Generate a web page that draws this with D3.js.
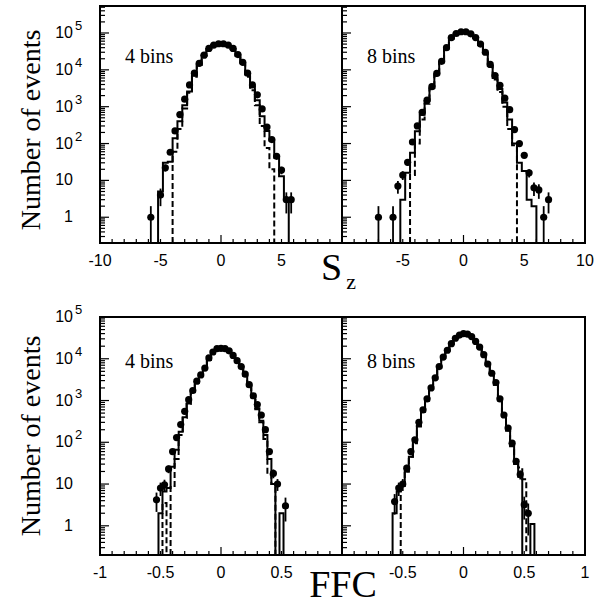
<!DOCTYPE html>
<html>
<head>
<meta charset="utf-8">
<script src="https://cdn.jsdelivr.net/npm/d3@7"></script>
<style>
  body { margin: 0; background: #fff; }
  svg { display: block; }
</style>
</head>
<body>
<div id="vis"></div>
<script>
// S_z panels: bin centres, bin width 0.4
var szBins = [-7.0, -6.6, -6.2, -5.8, -5.4, -5.0, -4.6, -4.2, -3.8, -3.4, -3.0, -2.6,
              -2.2, -1.8, -1.4, -1.0, -0.6, -0.2, 0.2, 0.6, 1.0, 1.4, 1.8, 2.2,
              2.6, 3.0, 3.4, 3.8, 4.2, 4.6, 5.0, 5.4, 5.8, 6.2, 6.6, 7.0];
var szBinWidth = 0.4;

// 4 bins
var sz4Data   = [null, null, null, 1, null, 4, 22, 58, 220, 610, 1600, 3900,
                 8100, 15000, 25000, 38000, 47000, 51000, 51000, 47000, 38000, 26000, 16000, 8100,
                 3900, 2100, 870, 280, 128, 45, 19, 3, 3, null, null, null];
var sz4Solid  = [0, 0, 0, 0, 0, 5, 30, 32, 140, 400, 1100, 2600,
                 7000, 14000, 25000, 37000, 47000, 50000, 50000, 46000, 37000, 25000, 15000, 7800,
                 3500, 1500, 550, 220, 120, 41, 13, 3, 0, 0, 0, 0];
var sz4Dashed = [0, 0, 0, 0, 0, 0, 0, 0, 60, 250, 900, 2400,
                 6500, 13500, 24000, 37000, 47000, 50000, 50000, 46000, 36000, 24000, 14000, 6500,
                 2800, 1100, 300, 76, 20, 0, 0, 0, 0, 0, 0, 0];

// 8 bins
var sz8Data   = [1, null, null, 1, 7, 14, 31, 110, 300, 700, 1500, 3500,
                 8000, 17000, 40000, 75000, 97000, 108000, 108000, 95000, 75000, 50000, 30000, 14000,
                 7000, 3800, 1700, 830, 240, 100, 48, 16, 6.3, 5.5, 1, 3];
var sz8Solid  = [0, 0, 0, 0, 0, 3, 16, 56, 215, 600, 1400, 3200,
                 7500, 16000, 38000, 72000, 96000, 107000, 107000, 94000, 74000, 48000, 28000, 13000,
                 6000, 3000, 1300, 450, 100, 30, 18, 3, 2, 0, 0, 0];
var sz8Dashed = [0, 0, 0, 0, 0, 0, 0, 14, 100, 450, 1200, 3000,
                 7000, 15500, 37000, 71000, 96000, 106000, 106000, 93000, 73000, 47000, 27000, 12500,
                 5500, 2500, 1000, 250, 90, 0, 0, 0, 0, 0, 0, 0];

// FFC panels: bin centres, bin width 1/30
var ffcBins = [-0.567, -0.533, -0.5, -0.467, -0.433, -0.4, -0.367, -0.333, -0.3, -0.267, -0.233, -0.2,
               -0.167, -0.133, -0.1, -0.067, -0.033, 0, 0.033, 0.067, 0.1, 0.133, 0.167, 0.2,
               0.233, 0.267, 0.3, 0.333, 0.367, 0.4, 0.433, 0.467, 0.5, 0.533, 0.567];
var ffcBinWidth = 1 / 30;

// 4 bins
var ffc4Data   = [null, 4.2, 8, 9.6, 23, 60, 130, 265, 550, 1050, 1740, 2900,
                  4100, 6000, 10500, 14500, 17500, 17800, 17500, 15500, 12000, 9000, 6500, 4300,
                  2400, 1300, 800, 450, 200, 60, 18, 10, null, 3, null];
var ffc4Solid  = [0, 0, 2, 6.6, 8, 26, 66, 180, 400, 850, 1600, 2700,
                  4000, 6000, 9500, 13500, 17000, 17800, 17300, 15200, 12000, 9000, 6300, 4000,
                  2300, 1200, 650, 330, 150, 40, 10, 0, 2, 0, 0];
var ffc4Dashed = [0, 0, 0, 3.5, 0, 9, 40, 150, 380, 830, 1580, 2700,
                  4000, 6000, 9500, 13500, 17000, 17800, 17300, 15200, 12000, 9000, 6300, 4000,
                  2300, 1200, 620, 300, 120, 17, 10, 0, 0, 0, 0];

// 8 bins
var ffc8Data   = [3.8, 8, 10, 24, 60, 115, 300, 600, 1100, 2000, 3500, 6500,
                  11000, 16000, 23000, 31000, 37000, 40000, 39000, 34000, 26000, 19000, 12500, 7500,
                  4500, 2700, 1100, 450, 220, 95, 35, 17, 3.2, 2, null];
var ffc8Solid  = [2, 6.6, 10, 20, 45, 100, 250, 550, 1000, 1900, 3300, 6200,
                  10500, 15500, 22500, 30500, 36500, 39500, 38500, 33500, 25500, 18500, 12000, 7200,
                  4200, 2400, 1000, 420, 190, 80, 30, 15, 0, 0, 1.1];
var ffc8Dashed = [0, 0, 9, 20, 45, 95, 240, 540, 1000, 1900, 3300, 6200,
                  10500, 15500, 22500, 30500, 36500, 39500, 38500, 33500, 25500, 18500, 12000, 7200,
                  4200, 2400, 1000, 420, 200, 85, 32, 25, 13, 0, 0];

// tick labels
var szLabelsLeft   = [-10, -5, 0, 5],
    szLabelsRight  = [-5, 0, 5, 10],
    ffcLabelsLeft  = [-1, -0.5, 0, 0.5],
    ffcLabelsRight = [-0.5, 0, 0.5, 1];
var yLabelVals = [1, 10, 100, 1000, 10000, 100000],
    yLabelBase = ['1', '10', '10', '10', '10', '10'],
    yLabelExp  = ['', '', '2', '3', '4', '5'];

var serif = '"Liberation Serif", "Times New Roman", serif',
    sans = '"Liberation Sans", Arial, sans-serif';

var width = 611, height = 607;

var svg = d3.select('#vis').append('svg')
    .attr('width', width)
    .attr('height', height);

svg.append('rect').attr('width', width).attr('height', height).attr('fill', '#fff');

var panels = [
  {bins: szBins, bw: szBinWidth, data: sz4Data, solid: sz4Solid, dashed: sz4Dashed,
   xd: [-10, 10], step: 1, yd: [0.2, 5.4e5], left: 100, right: 342, top: 6, bottom: 243,
   xLabels: szLabelsLeft, yLabels: true, tag: '4 bins', tagY: 63},
  {bins: szBins, bw: szBinWidth, data: sz8Data, solid: sz8Solid, dashed: sz8Dashed,
   xd: [-10, 10], step: 1, yd: [0.2, 5.4e5], left: 342, right: 585, top: 6, bottom: 243,
   xLabels: szLabelsRight, yLabels: false, tag: '8 bins', tagY: 63},
  {bins: ffcBins, bw: ffcBinWidth, data: ffc4Data, solid: ffc4Solid, dashed: ffc4Dashed,
   xd: [-1, 1], step: 0.1, yd: [0.2, 1e5], left: 100, right: 342, top: 317, bottom: 555,
   xLabels: ffcLabelsLeft, yLabels: true, tag: '4 bins', tagY: 368},
  {bins: ffcBins, bw: ffcBinWidth, data: ffc8Data, solid: ffc8Solid, dashed: ffc8Dashed,
   xd: [-1, 1], step: 0.1, yd: [0.2, 1e5], left: 342, right: 585, top: 317, bottom: 555,
   xLabels: ffcLabelsRight, yLabels: false, tag: '8 bins', tagY: 368}
];

panels.forEach(function(p, k) {
  var x = d3.scaleLinear().domain(p.xd).range([p.left, p.right]);
  var y = d3.scaleLog().domain(p.yd).range([p.bottom, p.top]);

  svg.append('clipPath').attr('id', 'clip' + k)
    .append('rect')
    .attr('x', p.left).attr('y', p.top)
    .attr('width', p.right - p.left).attr('height', p.bottom - p.top);

  var plot = svg.append('g').attr('clip-path', 'url(#clip' + k + ')');

  // step outline of a histogram, dropping to the axis where bins are empty
  function stepPath(vals) {
    var path = d3.path(), open = false;
    vals.forEach(function(v, i) {
      var x0 = x(p.bins[i] - p.bw / 2), x1 = x(p.bins[i] + p.bw / 2);
      if (v > 0) {
        if (!open) { path.moveTo(x0, p.bottom); open = true; }
        path.lineTo(x0, y(v));
        path.lineTo(x1, y(v));
        if (i == vals.length - 1 || !(vals[i + 1] > 0)) {
          path.lineTo(x1, p.bottom);
          open = false;
        }
      }
    });
    return path.toString();
  }

  plot.append('path')
    .attr('d', stepPath(p.solid))
    .attr('fill', 'none').attr('stroke', '#000').attr('stroke-width', 2);

  plot.append('path')
    .attr('d', stepPath(p.dashed))
    .attr('fill', 'none').attr('stroke', '#000').attr('stroke-width', 2)
    .attr('stroke-dasharray', '6,3');

  var pts = p.bins.map(function(c, i) { return {x: c, n: p.data[i]}; })
    .filter(function(d) { return d.n != null; });

  // statistical error bars
  plot.selectAll('.err').data(pts).enter().append('line')
    .attr('class', 'err')
    .attr('x1', function(d) { return x(d.x); })
    .attr('x2', function(d) { return x(d.x); })
    .attr('y1', function(d) {
      var lo = d.n - Math.sqrt(d.n);
      return lo > p.yd[0] ? y(lo) : p.bottom;
    })
    .attr('y2', function(d) { return y(d.n + Math.sqrt(d.n)); })
    .attr('stroke', '#000').attr('stroke-width', 1.8);

  plot.selectAll('.pt').data(pts).enter().append('circle')
    .attr('class', 'pt')
    .attr('cx', function(d) { return x(d.x); })
    .attr('cy', function(d) { return y(d.n); })
    .attr('r', 3.6)
    .attr('fill', '#000');

  // x ticks (inside, pointing up)
  var xt = d3.range(p.xd[0], p.xd[1] + p.step / 2, p.step);
  svg.append('g').selectAll('line').data(xt).enter().append('line')
    .attr('x1', function(d) { return x(d); })
    .attr('x2', function(d) { return x(d); })
    .attr('y1', p.bottom)
    .attr('y2', function(d) { return p.bottom - (Math.abs(d) < 1e-9 ? 8 : 4); })
    .attr('stroke', '#000').attr('stroke-width', 1.2);

  // log y ticks (inside, pointing right)
  var yt = [];
  [0.1, 1, 10, 100, 1000, 10000, 100000].forEach(function(dec) {
    for (var m = 1; m <= 9; m++) {
      var v = m * dec;
      if (v >= p.yd[0] && v <= p.yd[1]) yt.push({v: v, major: m == 1});
    }
  });
  svg.append('g').selectAll('line').data(yt).enter().append('line')
    .attr('x1', p.left)
    .attr('x2', function(d) { return p.left + (d.major ? 9 : 5); })
    .attr('y1', function(d) { return y(d.v); })
    .attr('y2', function(d) { return y(d.v); })
    .attr('stroke', '#000').attr('stroke-width', 1.2);

  // frame
  svg.append('rect')
    .attr('x', p.left).attr('y', p.top)
    .attr('width', p.right - p.left).attr('height', p.bottom - p.top)
    .attr('fill', 'none').attr('stroke', '#000').attr('stroke-width', 2);

  // x tick labels
  svg.append('g').selectAll('text').data(p.xLabels).enter().append('text')
    .attr('x', function(d) { return x(d); })
    .attr('y', p.bottom + 23)
    .attr('text-anchor', 'middle')
    .attr('font-family', sans).attr('font-size', 16)
    .text(function(d) { return String(d); });

  // y tick labels
  if (p.yLabels) {
    var yl = svg.append('g');
    yLabelVals.forEach(function(v, i) {
      yl.append('text')
        .attr('x', 73).attr('y', y(v) + 5)
        .attr('text-anchor', 'end')
        .attr('font-family', sans).attr('font-size', 16)
        .text(yLabelBase[i]);
      if (yLabelExp[i]) {
        yl.append('text')
          .attr('x', 75).attr('y', y(v) - 3)
          .attr('font-family', sans).attr('font-size', 13)
          .text(yLabelExp[i]);
      }
    });
  }

  svg.append('text')
    .attr('x', p.left + 25).attr('y', p.tagY)
    .attr('font-family', serif).attr('font-size', 20)
    .text(p.tag);
});

// axis titles
[130, 436].forEach(function(cy) {
  svg.append('text')
    .attr('transform', 'translate(40,' + cy + ') rotate(-90)')
    .attr('text-anchor', 'middle')
    .attr('font-family', serif).attr('font-size', 28)
    .text('Number of events');
});

var sz = svg.append('text')
    .attr('x', 321).attr('y', 280)
    .attr('font-family', serif).attr('font-size', 38);
sz.append('tspan').text('S');
sz.append('tspan').attr('dx', 4).attr('dy', 9).attr('font-size', 22).text('z');

svg.append('text')
  .attr('x', 343).attr('y', 597)
  .attr('text-anchor', 'middle')
  .attr('font-family', serif).attr('font-size', 38)
  .text('FFC');
</script>
</body>
</html>
